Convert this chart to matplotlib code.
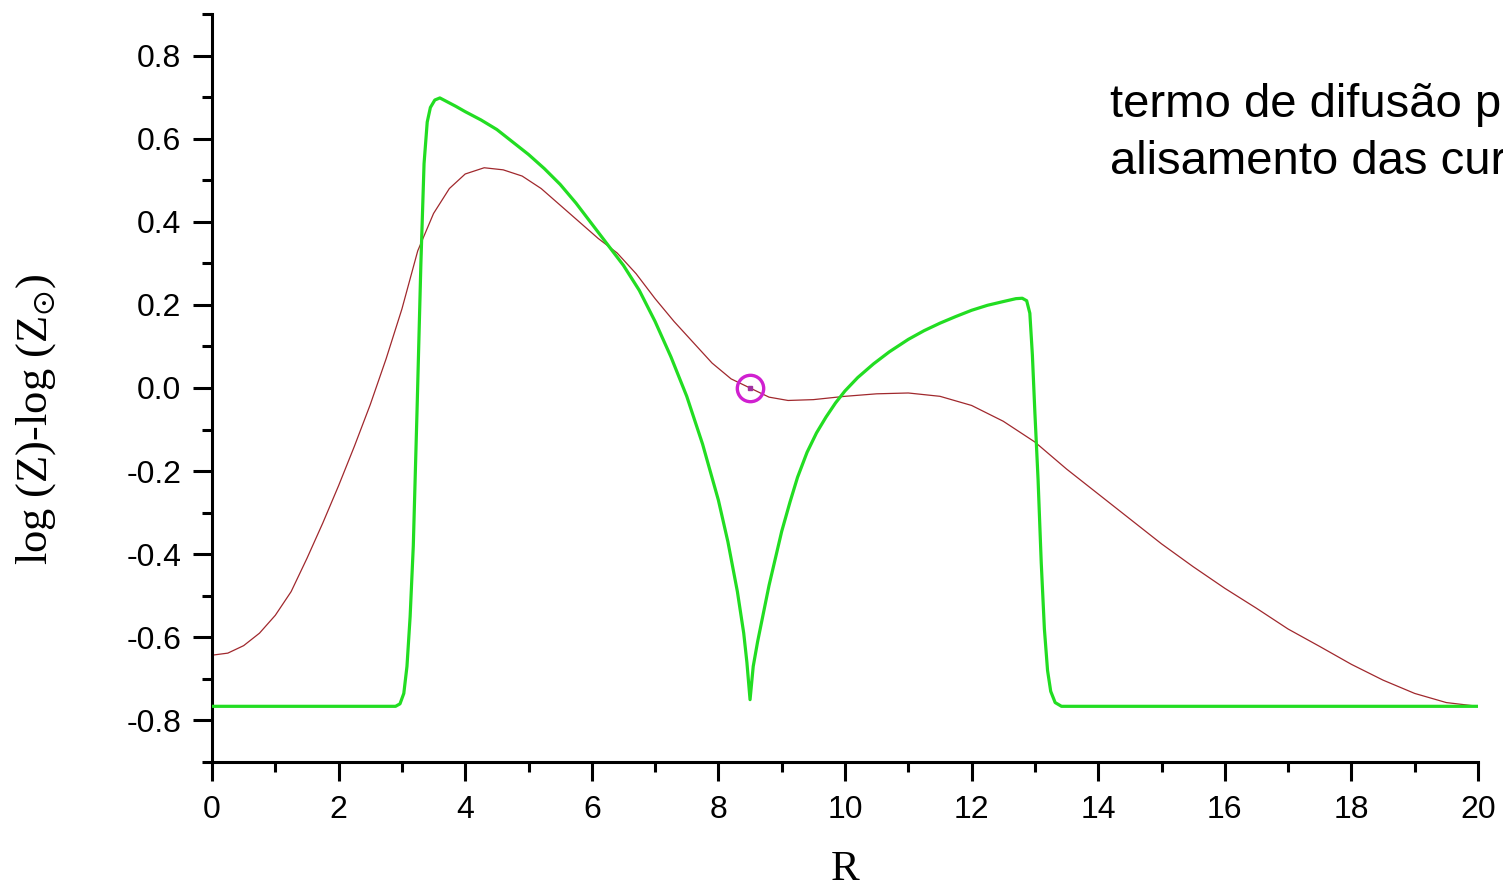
import matplotlib
matplotlib.use("Agg")
import matplotlib.pyplot as plt

# ---- data ----
green_r = [0.0, 2.9, 2.97, 3.03, 3.08, 3.13, 3.18, 3.24, 3.3, 3.35, 3.4, 3.45, 3.52,
           3.6, 3.7, 3.85, 4.0, 4.25, 4.5, 4.75, 5.0, 5.25, 5.5, 5.75, 6.0, 6.25,
           6.5, 6.75, 7.0, 7.25, 7.5, 7.75, 8.0, 8.15, 8.3, 8.4, 8.45, 8.5,
           8.55, 8.62, 8.7, 8.8, 8.9, 9.0, 9.13, 9.25, 9.4, 9.55, 9.7, 9.85, 10.0,
           10.2, 10.45, 10.7, 11.0, 11.25, 11.5, 11.75, 12.0, 12.25, 12.5, 12.7,
           12.8, 12.87, 12.92, 12.96, 13.0, 13.05, 13.1, 13.15, 13.2, 13.25, 13.32,
           13.42, 20.0]
green_v = [-0.766, -0.766, -0.76, -0.735, -0.67, -0.55, -0.38, -0.05, 0.3, 0.54, 0.64,
           0.675, 0.693, 0.698, 0.69, 0.678, 0.665, 0.645, 0.622, 0.592, 0.562,
           0.528, 0.49, 0.445, 0.395, 0.345, 0.295, 0.235, 0.16, 0.075, -0.02,
           -0.135, -0.27, -0.37, -0.49, -0.59, -0.66, -0.75,
           -0.67, -0.61, -0.55, -0.475, -0.41, -0.345, -0.275, -0.215, -0.155, -0.108,
           -0.07, -0.036, -0.007, 0.025, 0.058, 0.087, 0.117, 0.138, 0.156, 0.172,
           0.187, 0.199, 0.208, 0.215, 0.216, 0.21, 0.18, 0.08, -0.06, -0.22, -0.42,
           -0.58, -0.68, -0.73, -0.757, -0.766, -0.766]

red_r = [0.0, 0.25, 0.5, 0.75, 1.0, 1.25, 1.5, 1.75, 2.0, 2.25, 2.5, 2.75, 3.0, 3.25,
         3.5, 3.75, 4.0, 4.3, 4.6, 4.9, 5.2, 5.5, 5.8, 6.1, 6.4, 6.7, 7.0, 7.3, 7.6,
         7.9, 8.2, 8.5, 8.8, 9.1, 9.5, 10.0, 10.5, 11.0, 11.5, 12.0, 12.5, 13.0,
         13.5, 14.0, 14.5, 15.0, 15.5, 16.0, 16.5, 17.0, 17.5, 18.0, 18.5, 19.0,
         19.5, 20.0]
red_v = [-0.643, -0.638, -0.62, -0.59, -0.547, -0.49, -0.41, -0.325, -0.235, -0.14,
         -0.04, 0.07, 0.19, 0.33, 0.42, 0.48, 0.515, 0.53, 0.525, 0.51, 0.48, 0.44,
         0.40, 0.36, 0.325, 0.275, 0.215, 0.16, 0.11, 0.06, 0.022, 0.0, -0.022,
         -0.03, -0.028, -0.02, -0.014, -0.012, -0.02, -0.042, -0.08, -0.13, -0.195,
         -0.255, -0.315, -0.375, -0.43, -0.482, -0.53, -0.58, -0.622, -0.665,
         -0.703, -0.735, -0.757, -0.766]

sun_r = [8.5]
sun_v = [0.0]

x_ticks = [0, 2, 4, 6, 8, 10, 12, 14, 16, 18, 20]
x_minor = [1, 3, 5, 7, 9, 11, 13, 15, 17, 19]
y_ticks = [-0.8, -0.6, -0.4, -0.2, 0.0, 0.2, 0.4, 0.6, 0.8]
y_tick_labels = ["-0.8", "-0.6", "-0.4", "-0.2", "0.0", "0.2", "0.4", "0.6", "0.8"]
y_minor = [-0.9, -0.7, -0.5, -0.3, -0.1, 0.1, 0.3, 0.5, 0.7, 0.9]

note_line1 = "termo de difusão p"
note_line2 = "alisamento das cur"

# ---- figure ----
plt.rcParams['mathtext.fontset'] = 'stix'
fig = plt.figure(figsize=(15.03, 8.89), dpi=100)
ax = fig.add_axes([212/1503, 1-762/889, (1478-212)/1503, (762-14)/889])

ax.plot(red_r, red_v, color='#a0282d', lw=0.9, zorder=2)
ax.plot(green_r, green_v, color='#22dd22', lw=2.3, zorder=3, solid_joinstyle='round')
ax.plot(sun_r, sun_v, marker='o', ms=19, mfc='none', mec='#d020d0', mew=2.4,
        ls='none', zorder=4)
ax.plot(sun_r, sun_v, marker='s', ms=2.5, mfc='#a030a0', mec='#a030a0',
        ls='none', zorder=4)

ax.set_xlim(0, 20)
ax.set_ylim(-0.9, 0.9)

for s in ('top', 'right'):
    ax.spines[s].set_visible(False)
for s in ('left', 'bottom'):
    ax.spines[s].set_linewidth(2.2)

ax.set_xticks(x_ticks)
ax.set_xticks(x_minor, minor=True)
ax.set_xticklabels([str(t) for t in x_ticks], fontfamily='Liberation Sans', fontsize=23)
ax.set_yticks(y_ticks)
ax.set_yticks(y_minor, minor=True)
ax.set_yticklabels(y_tick_labels, fontfamily='Liberation Sans', fontsize=23)

ax.tick_params(which='major', direction='out', length=14, width=2.2)
ax.tick_params(which='minor', direction='out', length=7.5, width=2.2)
ax.tick_params(axis='y', which='major', pad=8)
ax.tick_params(axis='x', which='major', pad=10)

ax.set_xlabel('R', fontfamily='Liberation Serif', fontsize=31, labelpad=18)
ax.set_ylabel(r'log (Z)-log (Z$_{\odot}$)', fontfamily='Liberation Serif',
              fontsize=32)
ax.yaxis.set_label_coords((58 - 212) / 1266, (762 - 420) / 748)

# The reference slide cuts this note off at the right edge; kept as in the reference.
fig.text(1110/1503, 1-117/889, note_line1, fontfamily='Liberation Sans',
         fontsize=34, va='baseline', ha='left')
fig.text(1110/1503, 1-174/889, note_line2, fontfamily='Liberation Sans',
         fontsize=34, va='baseline', ha='left')

fig.savefig('out.png', dpi=100)
